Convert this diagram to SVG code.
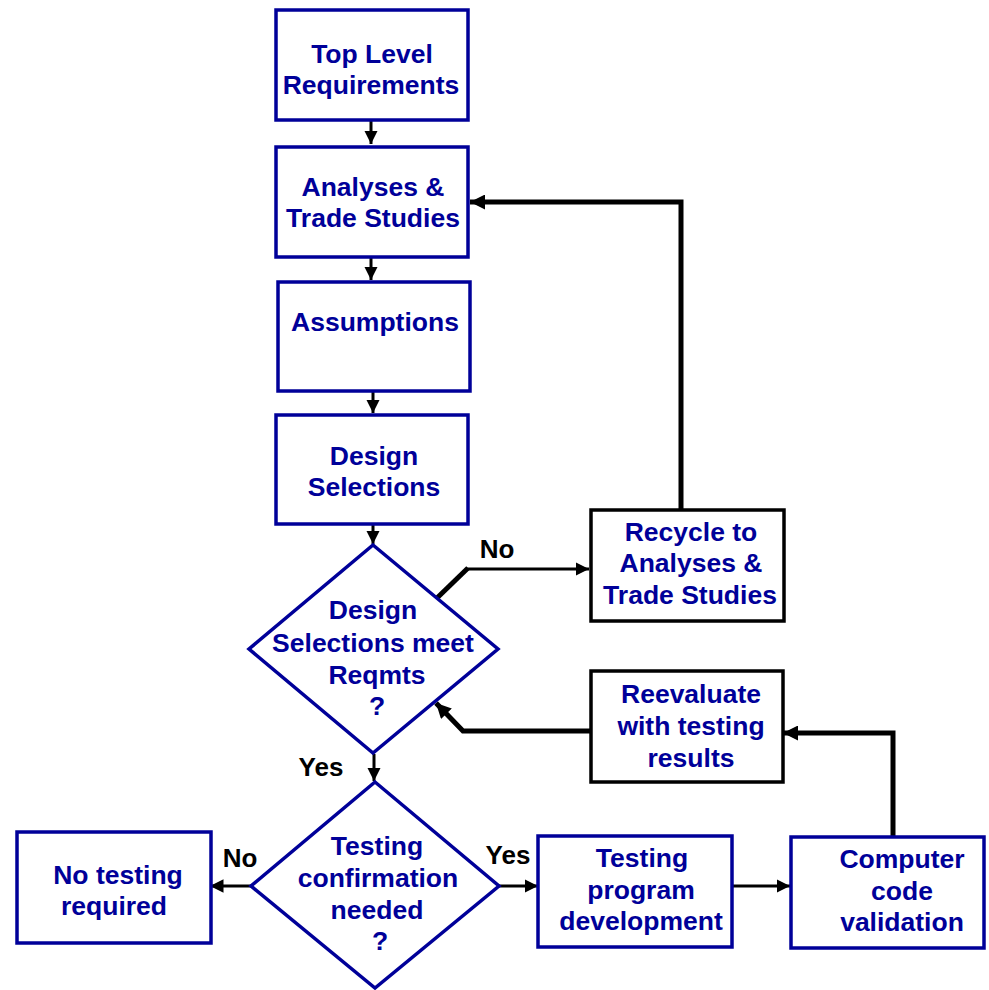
<svg xmlns="http://www.w3.org/2000/svg" width="989" height="990" viewBox="0 0 989 990">
<defs>
<style>
.box{fill:#fff;stroke:#000099;stroke-width:3.5}
.bbox{fill:#fff;stroke:#000;stroke-width:3.5}
.t{font-family:"Liberation Sans",Arial,sans-serif;font-weight:bold;font-size:26.5px;fill:#000099;text-anchor:middle}
.l{font-family:"Liberation Sans",Arial,sans-serif;font-weight:bold;font-size:26px;fill:#000;text-anchor:middle}
.c{fill:none;stroke:#000;stroke-width:3}
.c2{fill:none;stroke:#000;stroke-width:5}
</style>
<marker id="ah" viewBox="0 0 10 10" refX="10" refY="5" markerWidth="4.5" markerHeight="4.5" markerUnits="strokeWidth" orient="auto"><path d="M0,0L10,5L0,10z" fill="#000"/></marker>
<marker id="ah2" viewBox="0 0 10 10" refX="10" refY="5" markerWidth="3" markerHeight="3" markerUnits="strokeWidth" orient="auto"><path d="M0,0L10,5L0,10z" fill="#000"/></marker>
</defs>
<rect width="989" height="990" fill="#fff"/>
<g id="connectors">
<path class="c" d="M371,121V144" marker-end="url(#ah)"/>
<path class="c" d="M371,258V280" marker-end="url(#ah)"/>
<path class="c" d="M373,392V413" marker-end="url(#ah)"/>
<path class="c" d="M373,525V544" marker-end="url(#ah)"/>
<path class="c" d="M374,754V781" marker-end="url(#ah)"/>
<path class="c" d="M251,886H210" marker-end="url(#ah)"/>
<path class="c" d="M499,886H538" marker-end="url(#ah)"/>
<path class="c" d="M733,886H790" marker-end="url(#ah)"/>
<path class="c2" d="M437,598L468,568"/>
<path class="c" d="M467,569H589" marker-end="url(#ah)"/>
<path class="c2" d="M681,510V202H470" marker-end="url(#ah2)"/>
<path class="c2" d="M590,731H463L436,703" marker-end="url(#ah2)"/>
<path class="c2" d="M893,837V733H783" marker-end="url(#ah2)"/>
<text class="l" x="497" y="558">No</text>
<text class="l" x="321" y="776">Yes</text>
<text class="l" x="240" y="867">No</text>
<text class="l" x="508" y="864">Yes</text>
</g>
<g id="n1"><rect class="box" x="276" y="10" width="192" height="110"/><text class="t" x="372" y="63">Top Level</text><text class="t" x="371" y="94">Requirements</text></g>
<g id="n2"><rect class="box" x="276" y="147" width="192" height="110"/><text class="t" x="373" y="196">Analyses &amp;</text><text class="t" x="373" y="227">Trade Studies</text></g>
<g id="n3"><rect class="box" x="278" y="282" width="192" height="109"/><text class="t" x="375" y="331">Assumptions</text></g>
<g id="n4"><rect class="box" x="276" y="415" width="192" height="109"/><text class="t" x="374" y="465">Design</text><text class="t" x="374" y="496">Selections</text></g>
<g id="d1"><path class="box" d="M373,545L498,649L373,753L249,649Z"/><text class="t" x="373" y="619">Design</text><text class="t" x="373" y="652">Selections meet</text><text class="t" x="377" y="684">Reqmts</text><text class="t" x="377" y="715">?</text></g>
<g id="d2"><path class="box" d="M375,782L499,886L375,988L251,886Z"/><text class="t" x="377" y="855">Testing</text><text class="t" x="378" y="887">confirmation</text><text class="t" x="377" y="919">needed</text><text class="t" x="380" y="950">?</text></g>
<g id="n5"><rect class="box" x="17" y="832" width="194" height="111"/><text class="t" x="118" y="884">No testing</text><text class="t" x="114" y="915">required</text></g>
<g id="n6"><rect class="box" x="538" y="836" width="194" height="111"/><text class="t" x="642" y="867">Testing</text><text class="t" x="641" y="899">program</text><text class="t" x="641" y="930">development</text></g>
<g id="n7"><rect class="box" x="791" y="837" width="193" height="111"/><text class="t" x="902" y="868">Computer</text><text class="t" x="902" y="900">code</text><text class="t" x="902" y="931">validation</text></g>
<g id="n8"><rect class="bbox" x="591" y="671" width="192" height="111"/><text class="t" x="691" y="703">Reevaluate</text><text class="t" x="691" y="735">with testing</text><text class="t" x="691" y="767">results</text></g>
<g id="n9"><rect class="bbox" x="591" y="510" width="193" height="111"/><text class="t" x="691" y="541">Recycle to</text><text class="t" x="691" y="572">Analyses &amp;</text><text class="t" x="690" y="604">Trade Studies</text></g>
</svg>
